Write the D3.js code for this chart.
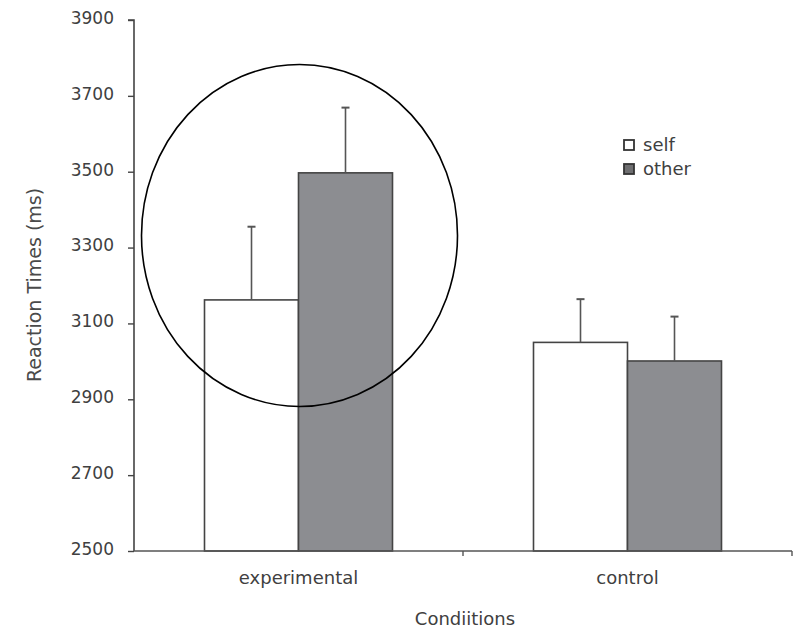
<!DOCTYPE html>
<html><head><meta charset="utf-8">
<script src="https://cdn.jsdelivr.net/npm/d3@7"></script>
<style>body{margin:0;background:#fff}</style>
</head><body>
<svg id="c" width="794" height="630"></svg>
<script>
const conditions = ["experimental", "control"];
const groups = ["self", "other"];
const selfMeans = [3162, 3050];
const otherMeans = [3497, 3001];
const selfErrTop = [3355, 3164];
const otherErrTop = [3669, 3118];
const yTicks = [2500, 2700, 2900, 3100, 3300, 3500, 3700, 3900];
const colors = {self: "#ffffff", other: "#8c8d91"};

const svg = d3.select("#c");
const font = "DejaVu Sans, Arial, sans-serif";
const txt = "#404040";
const m = {left: 134, right: 792, top: 20, bottom: 551};

const x = d3.scaleBand().domain(conditions).range([m.left, m.right]).paddingInner(0).paddingOuter(0);
const xs = d3.scaleBand().domain(groups).range([0, 188]);
const y = d3.scaleLinear().domain([2500, 3900]).range([m.bottom, m.top]);

const data = [];
conditions.forEach((c, i) => {
  data.push({c, g: "self", v: selfMeans[i], e: selfErrTop[i]});
  data.push({c, g: "other", v: otherMeans[i], e: otherErrTop[i]});
});
const bx = d => x(d.c) + (x.bandwidth() - 188) / 2 + xs(d.g);

// bars
svg.selectAll("rect.bar").data(data).enter().append("rect")
  .attr("class", "bar")
  .attr("x", bx).attr("width", xs.bandwidth())
  .attr("y", d => y(d.v)).attr("height", d => y(2500) - y(d.v))
  .attr("fill", d => colors[d.g]).attr("stroke", "#444").attr("stroke-width", 1.6);

// error bars
const eg = svg.append("g").attr("stroke", "#555").attr("stroke-width", 1.6);
data.forEach(d => {
  const cx = bx(d) + xs.bandwidth() / 2;
  eg.append("line").attr("x1", cx).attr("x2", cx).attr("y1", y(d.v)).attr("y2", y(d.e));
  eg.append("line").attr("x1", cx - 4).attr("x2", cx + 4).attr("y1", y(d.e)).attr("y2", y(d.e)).attr("stroke-width", 2);
});

// y axis
const ya = svg.append("g").attr("transform", `translate(${m.left},0)`)
  .call(d3.axisLeft(y).tickValues(yTicks).tickSize(6).tickPadding(14).tickFormat(d3.format("d")));
ya.select(".domain").attr("stroke", "#444").attr("stroke-width", 1.6).attr("d", `M-6,${m.top}H0V${m.bottom}`);
ya.selectAll(".tick line").attr("stroke", "#444").attr("stroke-width", 1.4);
ya.selectAll(".tick text").attr("fill", txt).attr("dy", "0.2em").style("font-family", font).style("font-size", "17px");

// x axis
const xa = svg.append("g").attr("transform", `translate(0,${m.bottom})`)
  .call(d3.axisBottom(x).tickSize(0).tickPadding(20));
xa.select(".domain").attr("stroke", "#555").attr("stroke-width", 1.6).attr("d", `M${m.left},0H${m.right}`);
xa.selectAll(".tick text").attr("fill", txt).style("font-family", font).style("font-size", "18px");
const bounds = [x(conditions[0]) + x.bandwidth(), m.right];
svg.append("g").selectAll("line").data(bounds).enter().append("line")
  .attr("x1", d => d).attr("x2", d => d).attr("y1", m.bottom).attr("y2", m.bottom + 5)
  .attr("stroke", "#555").attr("stroke-width", 1.4);

// axis titles
svg.append("text").attr("x", 465).attr("y", 625).attr("text-anchor", "middle")
  .attr("fill", txt).style("font-family", font).style("font-size", "18px").text("Condiitions");
svg.append("text").attr("transform", "translate(41,285) rotate(-90)").attr("text-anchor", "middle")
  .attr("fill", "#4a4a4a").style("font-family", font).style("font-size", "19px").text("Reaction Times (ms)");

// legend
const lg = svg.append("g");
groups.forEach((g, i) => {
  const ly = 140 + i * 24;
  lg.append("rect").attr("x", 624).attr("y", ly).attr("width", 10).attr("height", 10)
    .attr("fill", g === "self" ? "#fff" : "#6e6e70").attr("stroke", "#333").attr("stroke-width", 1.8);
  lg.append("text").attr("x", 643).attr("y", ly + 11).attr("fill", txt)
    .style("font-family", font).style("font-size", "18px").text(g);
});

// highlight ellipse
svg.append("ellipse").attr("cx", 299.5).attr("cy", 235.5).attr("rx", 158).attr("ry", 171)
  .attr("fill", "none").attr("stroke", "#000").attr("stroke-width", 1.6);
</script>
</body></html>
